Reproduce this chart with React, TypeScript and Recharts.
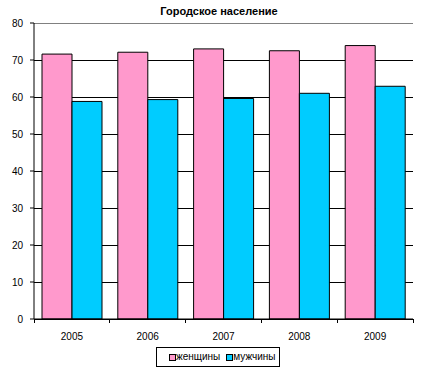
import React from "react";
import { BarChart, Bar, XAxis, YAxis, CartesianGrid, Legend, ReferenceLine } from "recharts";

const years = ["2005", "2006", "2007", "2008", "2009"];
const women = [71.6, 72.1, 73.0, 72.5, 73.9];
const men = [58.8, 59.3, 59.6, 61.0, 62.9];
const yTicks = [0, 10, 20, 30, 40, 50, 60, 70, 80];
const title = "Городское население";
const womenLabel = "женщины";
const menLabel = "мужчины";

const PINK = "#FF99CC";
const BLUE = "#00CCFF";
const FONT = "'Liberation Sans', Arial, sans-serif";

const data = years.map((y, i) => ({ year: y, women: women[i], men: men[i] }));

const W = 430;
const H = 375;
const M = { top: 23, right: 17, left: 0, bottom: 0 };
const Y_W = 34;
const BAND = (W - M.left - M.right - Y_W) / years.length;

const XTick = (props: any) => {
  const { x, y, payload, index } = props;
  const half = payload && typeof payload.offset === "number" && payload.offset > 0 ? payload.offset : BAND / 2;
  const last = index === years.length - 1;
  return (
    <g>
      <line x1={x - half} x2={x - half} y1={y} y2={y + 4} stroke="#000" shapeRendering="crispEdges" />
      {last && <line x1={x + half} x2={x + half} y1={y} y2={y + 4} stroke="#000" shapeRendering="crispEdges" />}
      <text x={x} y={y + 21} textAnchor="middle" fontSize={10} fontFamily={FONT} fill="#000">
        {payload.value}
      </text>
    </g>
  );
};

const LegendBox = () => (
  <div
    style={{
      boxSizing: "border-box",
      width: 124,
      height: 20,
      border: "1px solid #000",
      background: "#fff",
      display: "flex",
      alignItems: "center",
      paddingLeft: 12,
      fontFamily: FONT,
      fontSize: 10,
      color: "#000",
      lineHeight: "12px",
    }}
  >
    <span style={{ display: "inline-block", width: 5, height: 5, background: PINK, border: "1px solid #000", marginRight: 0 }} />
    <span style={{ marginRight: 6 }}>{womenLabel}</span>
    <span style={{ display: "inline-block", width: 5, height: 5, background: BLUE, border: "1px solid #000", marginRight: 0 }} />
    <span>{menLabel}</span>
  </div>
);

export default function App() {
  return (
    <div style={{ position: "absolute", left: 0, top: 0, width: W, height: H, background: "#fff" }}>
      <div
        style={{
          position: "absolute",
          top: 4,
          left: 0,
          width: W,
          paddingLeft: 8,
          boxSizing: "border-box",
          textAlign: "center",
          fontFamily: FONT,
          fontWeight: "bold",
          fontSize: 11,
          lineHeight: "14px",
          color: "#000",
        }}
      >
        {title}
      </div>
      <BarChart width={W} height={H} data={data} margin={M} barCategoryGap={8} barGap={0}>
        <CartesianGrid vertical={false} stroke="#000" shapeRendering="crispEdges" />
        <XAxis
          dataKey="year"
          height={36}
          tickSize={0}
          tickMargin={0}
          tickLine={false}
          axisLine={{ stroke: "#000" }}
          tick={<XTick />}
          interval={0}
        />
        <YAxis
          width={Y_W}
          domain={[0, 80]}
          ticks={yTicks}
          interval={0}
          tickSize={4}
          tickMargin={7}
          axisLine={{ stroke: "#000" }}
          tickLine={{ stroke: "#000" }}
          tick={{ fill: "#000", fontSize: 10, fontFamily: FONT }}
        />
        <YAxis
          yAxisId="r"
          orientation="right"
          width={0}
          domain={[0, 80]}
          tick={false}
          tickLine={false}
          axisLine={{ stroke: "#808080" }}
        />
        <ReferenceLine y={80} stroke="#808080" shapeRendering="crispEdges" />
        <Bar dataKey="women" name={womenLabel} fill={PINK} stroke="#000" strokeWidth={1} isAnimationActive={false} />
        <Bar dataKey="men" name={menLabel} fill={BLUE} stroke="#000" strokeWidth={1} isAnimationActive={false} />
        <Legend
          verticalAlign="bottom"
          content={<LegendBox />}
          wrapperStyle={{ top: 347, left: 156, width: 124, height: 20, bottom: "auto" }}
        />
      </BarChart>
    </div>
  );
}
